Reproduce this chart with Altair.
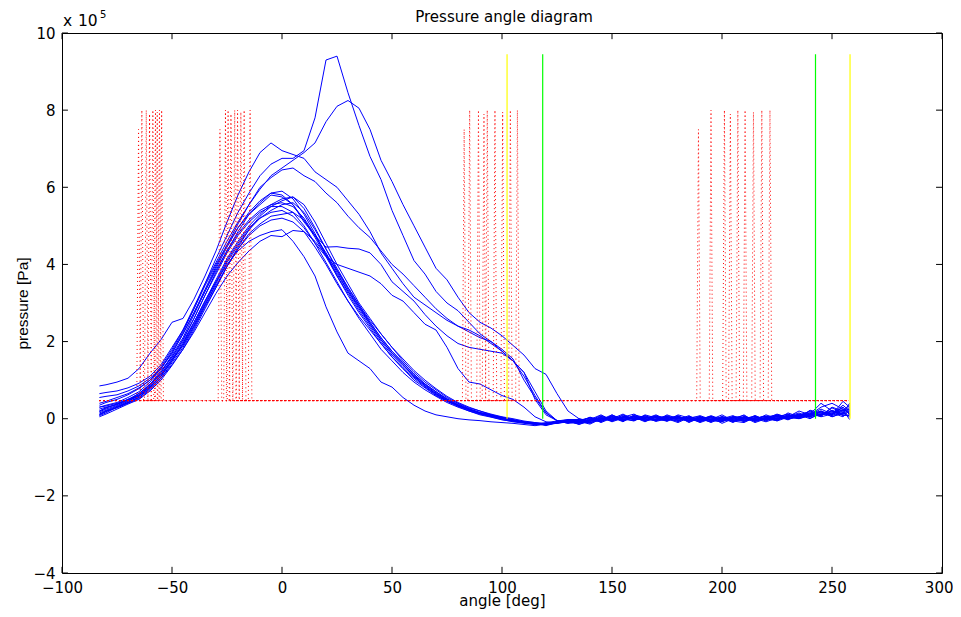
import altair as alt
import pandas as pd

# ---------------- data ----------------
x_domain = [-100, 300]
y_domain = [-4, 10]
x_ticks = [-100, -50, 0, 50, 100, 150, 200, 250, 300]
y_ticks = [-4, -2, 0, 2, 4, 6, 8, 10]

angles = [-83, -80, -75, -70, -65, -60, -55, -50, -45, -40, -35,
          -30, -25, -20, -15, -10, -5, 0, 5, 10, 15, 20,
          25, 30, 35, 40, 45, 50, 55, 60, 65, 70, 75,
          80, 85, 90, 95, 100, 105, 110, 115, 120, 125, 130,
          135, 140, 145, 150, 155, 160, 165, 170, 175, 180, 185, 190, 195,
          200, 205, 210, 215, 220, 225, 230, 235, 240, 245, 250, 255, 258]

# pressure traces (x 10^5 Pa)
m1 = [0.15, 0.22, 0.32, 0.45, 0.6, 0.85, 1.2, 1.65, 2.1, 2.7, 3.3,
      3.9, 4.45, 4.95, 5.35, 5.65, 5.85, 5.9, 5.7, 5.3, 4.8, 4.25,
      3.7, 3.2, 2.75, 2.35, 1.95, 1.6, 1.3, 1.0, 0.8, 0.6, 0.45,
      0.32, 0.2, 0.12, 0.05, -0.02, -0.08, -0.12, -0.15, -0.12, -0.08, -0.05,
      -0.12, -0.02, -0.08, 0.05, -0.03, 0.08, -0.04, 0.03, 0.06, -0.05, 0.02, -0.1, 0.0,
      -0.06, 0.04, -0.08, 0.02, 0.06, -0.02, 0.1, 0.04, 0.15, 0.08, 0.22, 0.12, 0.18]
m2 = [0.08, 0.15, 0.3, 0.42, 0.55, 0.8, 1.1, 1.5, 1.95, 2.5, 3.05,
      3.6, 4.15, 4.6, 5.0, 5.3, 5.55, 5.7, 5.75, 5.45, 4.95, 4.4,
      3.85, 3.35, 2.9, 2.5, 2.1, 1.75, 1.45, 1.15, 0.9, 0.7, 0.5,
      0.35, 0.25, 0.15, 0.08, 0.0, -0.05, -0.1, -0.13, -0.16, -0.1, -0.06,
      -0.05, -0.12, 0.02, -0.06, 0.1, -0.02, 0.05, -0.07, 0.0, 0.08, -0.06, 0.02, -0.1,
      0.03, -0.08, 0.05, -0.05, 0.0, 0.08, 0.02, 0.12, 0.05, 0.18, 0.1, 0.25, 0.15]
m3 = [0.3, 0.33, 0.4, 0.5, 0.62, 0.9, 1.15, 1.55, 1.9, 2.4, 2.95,
      3.5, 4.05, 4.5, 4.9, 5.2, 5.4, 5.55, 5.6, 5.35, 4.9, 4.4,
      3.9, 3.4, 2.95, 2.55, 2.2, 1.85, 1.5, 1.2, 0.95, 0.75, 0.55,
      0.4, 0.28, 0.2, 0.1, 0.04, -0.02, -0.08, -0.1, -0.14, -0.12, -0.04,
      -0.1, 0.0, -0.05, 0.08, 0.0, -0.06, 0.1, 0.02, -0.04, 0.04, 0.0, -0.08, 0.03,
      -0.12, 0.0, -0.02, 0.08, -0.04, 0.05, 0.12, 0.0, 0.1, 0.2, 0.05, 0.15, 0.3]
m4 = [0.2, 0.28, 0.38, 0.48, 0.66, 0.88, 1.25, 1.6, 2.05, 2.6, 3.2,
      3.75, 4.3, 4.75, 5.1, 5.35, 5.5, 5.5, 5.35, 5.0, 4.55, 4.05,
      3.55, 3.05, 2.6, 2.2, 1.8, 1.5, 1.2, 0.95, 0.75, 0.58, 0.42,
      0.3, 0.2, 0.1, 0.04, -0.03, -0.07, -0.1, -0.14, -0.1, -0.06, -0.02,
      -0.02, -0.08, 0.06, -0.02, 0.04, 0.12, -0.03, 0.06, -0.02, -0.06, 0.05, -0.02, -0.07,
      0.02, -0.1, 0.06, -0.03, 0.1, 0.0, 0.06, 0.15, 0.02, 0.12, 0.2, 0.08, 0.1]
m5 = [0.12, 0.2, 0.28, 0.4, 0.52, 0.75, 1.05, 1.45, 1.85, 2.35, 2.9,
      3.4, 3.95, 4.4, 4.8, 5.05, 5.25, 5.3, 5.35, 5.15, 4.75, 4.3,
      3.8, 3.3, 2.9, 2.45, 2.05, 1.7, 1.4, 1.1, 0.85, 0.65, 0.48,
      0.33, 0.24, 0.14, 0.08, 0.02, -0.04, -0.1, -0.12, -0.18, -0.1, -0.05,
      -0.15, -0.05, 0.0, -0.04, 0.06, 0.0, 0.08, -0.05, 0.1, 0.0, -0.04, 0.05, -0.05,
      -0.08, 0.04, 0.0, -0.06, 0.04, 0.1, -0.02, 0.08, 0.2, 0.1, 0.15, 0.05, 0.22]
m6 = [0.25, 0.3, 0.36, 0.5, 0.6, 0.82, 1.12, 1.5, 1.9, 2.4, 2.95,
      3.45, 3.95, 4.4, 4.75, 5.0, 5.15, 5.2, 5.1, 4.85, 4.45, 4.0,
      3.5, 3.05, 2.65, 2.3, 1.95, 1.6, 1.3, 1.05, 0.82, 0.62, 0.46,
      0.34, 0.22, 0.13, 0.06, 0.0, -0.06, -0.1, -0.15, -0.13, -0.07, -0.03,
      -0.06, 0.03, -0.1, 0.02, -0.05, 0.05, 0.0, 0.1, -0.03, 0.03, -0.08, 0.0, 0.06,
      -0.04, -0.02, 0.1, -0.08, 0.02, -0.05, 0.08, 0.02, 0.1, 0.25, 0.12, 0.3, 0.12]
m7 = [0.1, 0.18, 0.3, 0.42, 0.55, 0.78, 1.05, 1.4, 1.8, 2.25, 2.75,
      3.25, 3.7, 4.05, 4.35, 4.6, 4.75, 4.72, 4.88, 4.85, 4.6, 4.25,
      3.85, 3.4, 2.95, 2.5, 2.1, 1.75, 1.45, 1.15, 0.9, 0.7, 0.52,
      0.38, 0.26, 0.16, 0.1, 0.03, -0.03, -0.08, -0.12, -0.15, -0.12, -0.07,
      -0.08, -0.1, 0.04, -0.08, 0.02, 0.06, -0.06, 0.0, 0.05, -0.08, 0.06, -0.05, -0.02,
      0.05, -0.06, -0.1, 0.04, -0.06, 0.08, 0.0, 0.05, 0.12, 0.06, 0.28, 0.15, 0.05]
m8 = [0.18, 0.25, 0.34, 0.47, 0.6, 0.86, 1.15, 1.55, 2.0, 2.5, 3.05,
      3.55, 4.0, 4.35, 4.6, 4.75, 4.85, 4.9, 4.6, 4.2, 3.7, 2.9,
      2.25, 1.7, 1.5, 1.3, 0.95, 0.82, 0.55, 0.35, 0.2, 0.1, 0.05,
      0.0, -0.03, -0.05, -0.08, -0.1, -0.12, -0.15, -0.18, -0.14, -0.1, -0.06,
      -0.14, -0.06, -0.02, 0.1, -0.06, 0.02, 0.04, -0.04, 0.0, 0.06, -0.1, 0.04, -0.03,
      0.0, 0.08, -0.05, 0.0, -0.08, 0.02, 0.05, 0.1, 0.0, 0.15, 0.08, 0.2, 0.25]
m9 = [0.05, 0.12, 0.25, 0.38, 0.5, 0.72, 1.0, 1.38, 1.8, 2.3, 2.85,
      3.4, 3.95, 4.45, 4.9, 5.25, 5.5, 5.65, 5.75, 5.55, 5.1, 4.55,
      4.0, 3.5, 3.0, 2.6, 2.2, 1.85, 1.55, 1.25, 1.0, 0.78, 0.58,
      0.42, 0.3, 0.2, 0.12, 0.05, 0.0, -0.06, -0.1, -0.13, -0.11, -0.05,
      -0.04, 0.02, -0.06, 0.0, 0.08, -0.04, 0.02, 0.07, -0.06, 0.1, 0.02, -0.06, 0.0,
      -0.05, 0.02, 0.04, -0.1, 0.0, 0.12, 0.03, 0.0, 0.08, 0.12, 0.18, 0.1, 0.08]
m10 = [0.65, 0.68, 0.72, 0.8, 0.92, 1.1, 1.4, 1.85, 2.3, 2.85, 3.45,
       4.0, 4.5, 4.95, 5.3, 5.55, 5.8, 5.75, 5.55, 5.15, 4.7, 4.2,
       3.7, 3.25, 2.8, 2.4, 2.0, 1.65, 1.35, 1.08, 0.85, 0.64, 0.47,
       0.35, 0.23, 0.15, 0.07, 0.01, -0.05, -0.09, -0.12, -0.16, -0.09, -0.04,
       -0.1, -0.04, 0.08, -0.03, -0.02, 0.04, -0.08, 0.05, 0.03, -0.02, 0.08, -0.08, 0.05,
       -0.02, -0.04, 0.02, 0.05, -0.02, -0.04, 0.1, 0.06, 0.15, 0.05, 0.12, 0.35, 0.2]
m11 = [0.55, 0.58, 0.62, 0.72, 0.85, 1.05, 1.3, 1.7, 2.2, 2.75, 3.3,
       3.85, 4.35, 4.8, 5.15, 5.4, 5.55, 5.6, 5.5, 5.2, 4.75, 4.25,
       3.75, 3.3, 2.85, 2.45, 2.05, 1.7, 1.4, 1.12, 0.88, 0.67, 0.5,
       0.36, 0.25, 0.16, 0.1, 0.02, -0.04, -0.1, -0.13, -0.15, -0.1, -0.05,
       -0.07, -0.14, 0.0, 0.04, -0.08, 0.1, 0.03, -0.02, -0.05, 0.05, -0.02, 0.0, -0.08,
       0.06, -0.03, -0.06, 0.02, 0.05, -0.06, 0.04, 0.12, 0.06, 0.1, 0.15, 0.22, -0.02]
sa = [0.3, 0.35, 0.42, 0.55, 0.7, 0.95, 1.3, 1.75, 2.25, 2.85, 3.5,
      4.15, 4.75, 5.35, 5.85, 6.3, 6.6, 6.75, 6.75, 6.95, 7.8, 9.3,
      9.4, 8.45, 7.6, 6.8, 6.2, 5.4, 4.75, 4.1, 3.75, 3.3, 3.0,
      2.8, 2.5, 2.2, 2.0, 1.75, 1.5, 1.2, 0.7, 0.2, -0.05, -0.12,
      0.0, -0.1, -0.04, 0.06, 0.0, -0.05, 0.08, -0.03, 0.04, 0.0, -0.06, 0.06, -0.04,
      0.0, -0.07, 0.03, 0.0, 0.07, -0.02, 0.15, 0.05, 0.1, 0.2, 0.1, 0.45, 0.3]
sb = [0.35, 0.42, 0.5, 0.62, 0.78, 1.0, 1.35, 1.8, 2.3, 2.9, 3.5,
      4.05, 4.6, 5.1, 5.55, 5.95, 6.3, 6.5, 6.7, 6.9, 7.15, 7.7,
      8.1, 8.25, 8.05, 7.5, 6.7, 6.15, 5.55, 5.0, 4.45, 3.9, 3.6,
      3.15, 2.75, 2.5, 2.35, 2.15, 1.9, 1.65, 1.3, 1.15, 0.65, 0.2,
      0.0, -0.06, 0.05, -0.06, 0.03, 0.02, -0.05, 0.08, -0.02, 0.02, 0.04, -0.04, 0.08,
      -0.02, 0.05, -0.04, 0.06, -0.02, 0.1, 0.05, 0.2, 0.1, 0.3, 0.4, 0.25, 0.12]
sc = [0.85, 0.88, 0.95, 1.05, 1.3, 1.7, 2.05, 2.5, 2.6, 3.1, 3.7,
      4.35, 5.1, 5.8, 6.4, 6.9, 7.15, 6.95, 6.85, 6.75, 6.4, 6.2,
      6.0, 5.65, 5.3, 4.85, 4.3, 3.9, 3.5, 3.15, 2.95, 2.75, 2.55,
      2.4, 2.25, 2.1, 2.0, 1.8, 1.55, 1.0, 0.55, 0.15, -0.05, -0.12,
      -0.08, 0.04, -0.03, 0.0, 0.12, -0.02, 0.0, -0.04, 0.08, -0.04, 0.0, 0.08, -0.02,
      0.1, -0.05, 0.0, -0.04, 0.03, 0.0, 0.06, 0.1, 0.05, 0.18, 0.05, 0.15, 0.4]
sd = [0.4, 0.45, 0.55, 0.65, 0.8, 1.0, 1.3, 1.7, 2.2, 2.75, 3.35,
      3.95, 4.5, 5.05, 5.55, 6.0, 6.25, 6.45, 6.5, 6.3, 6.15, 5.85,
      5.6, 5.25, 4.95, 4.7, 4.35, 4.0, 3.75, 3.45, 3.15, 2.85, 2.6,
      2.4, 2.3, 2.15, 1.95, 1.75, 1.5, 1.2, 0.5, 0.1, -0.05, -0.1,
      -0.12, -0.02, 0.1, -0.04, 0.04, -0.02, 0.05, 0.02, -0.07, 0.06, -0.05, 0.02, 0.04,
      -0.08, 0.06, 0.02, -0.02, 0.0, 0.06, -0.03, 0.1, 0.18, 0.08, 0.3, 0.2, 0.35]
se = [0.2, 0.28, 0.38, 0.5, 0.65, 0.9, 1.2, 1.6, 2.05, 2.6, 3.2,
      3.8, 4.35, 4.85, 5.3, 5.6, 5.85, 5.8, 5.55, 5.1, 4.75, 4.45,
      4.46, 4.42, 4.4, 4.3, 4.0, 3.55, 3.3, 3.05, 2.7, 2.4, 2.15,
      1.95, 1.85, 1.8, 1.75, 1.7, 1.5, 1.1, 0.6, 0.15, -0.05, -0.1,
      -0.06, 0.02, -0.08, 0.1, -0.02, 0.06, -0.04, 0.04, 0.0, -0.1, 0.03, 0.05, -0.06,
      0.04, 0.0, -0.06, 0.08, -0.04, 0.03, 0.0, 0.08, 0.12, 0.4, 0.2, 0.12, 0.25]
sf = [0.1, 0.2, 0.3, 0.42, 0.58, 0.82, 1.1, 1.5, 1.95, 2.45, 3.0,
      3.55, 4.1, 4.55, 4.95, 5.2, 5.35, 5.4, 5.25, 4.95, 4.55, 4.2,
      4.0, 3.9, 3.8, 3.7, 3.5, 3.2, 3.05, 2.75, 2.45, 2.3, 1.85,
      1.3, 0.95, 0.9, 0.75, 0.6, 0.5, 0.3, 0.05, -0.08, -0.12, -0.08,
      -0.1, -0.03, 0.0, 0.05, -0.06, 0.08, 0.0, -0.06, 0.05, 0.03, -0.04, -0.02, 0.06,
      -0.06, 0.02, 0.08, -0.05, 0.04, -0.04, 0.1, 0.02, 0.22, 0.15, 0.1, 0.3, 0.1]

curves = {"m1": m1, "m2": m2, "m3": m3, "m4": m4, "m5": m5, "m6": m6,
          "m7": m7, "m8": m8, "m9": m9, "m10": m10, "m11": m11,
          "sa": sa, "sb": sb, "sc": sc, "sd": sd, "se": se, "sf": sf}

# valve signal traces (red, dotted)
red_base = 0.47
red_start = -83
red_end = 257.5
red_g1 = [-66, -64.5, -62.5, -61, -59.5, -58.3, -57.5, -56.5, -55.5]
red_g2 = [-29, -26.5, -25.3, -24, -22.3, -21, -19.5, -18, -15.3]
red_g3 = [82, 84.5, 88.5, 91, 92.5, 96, 99.5, 103, 106.2]
red_g4 = [188.5, 194.2, 200.3, 203, 206.4, 209.7, 213.5, 217.3, 221]
red_top = [7.5, 8.0, 8.0, 7.9, 8.0, 8.0, 7.95, 8.0, 8.0]
red_edge = 0.8

# marker lines
vl_angle = [102.3, 118.5, 242.5, 258.2]
vl_color = ["#ffff00", "#00ff00", "#00ff00", "#ffff00"]
vl_low = 0
vl_high = 9.45

# texts
title_text = "Pressure angle diagram"
x_title = "angle [deg]"
y_title = "pressure [Pa]"

# ---------------- tables ----------------
rows = []
for name, vals in curves.items():
    assert len(vals) == len(angles), name
    for i, (a, v) in enumerate(zip(angles, vals)):
        rows.append({"curve": name, "angle": a, "p": v, "k": i})
df_blue = pd.DataFrame(rows)

rrows = []
for t in range(len(red_top)):
    pts = [(red_start, red_base)]
    for g in (red_g1, red_g2, red_g3, red_g4):
        a = g[t]
        pts += [(a, red_base), (a + red_edge, red_top[t]), (a + 2 * red_edge, red_base)]
    pts.append((red_end, red_base))
    for k, (a, v) in enumerate(pts):
        rrows.append({"trace": t, "angle": a, "p": v, "k": k})
df_red = pd.DataFrame(rrows)

df_vl = pd.DataFrame({"angle": vl_angle, "c": vl_color,
                      "p": [vl_low] * 4, "p2": [vl_high] * 4})

tick_lx = 2.7   # tick length in x units
tick_ly = 0.16  # tick length in y units
tb = pd.DataFrame({"angle": x_ticks + x_ticks,
                   "p": [y_domain[0]] * len(x_ticks) + [y_domain[1]] * len(x_ticks),
                   "p2": [y_domain[0] + tick_ly] * len(x_ticks) + [y_domain[1] - tick_ly] * len(x_ticks)})
tl = pd.DataFrame({"p": y_ticks + y_ticks,
                   "angle": [x_domain[0]] * len(y_ticks) + [x_domain[1]] * len(y_ticks),
                   "angle2": [x_domain[0] + tick_lx] * len(y_ticks) + [x_domain[1] - tick_lx] * len(y_ticks)})

WIDE = "DejaVu Sans"
NARROW = "Liberation Sans"
xs = alt.Scale(domain=x_domain, nice=False, zero=False)
ys = alt.Scale(domain=y_domain, nice=False, zero=False)

last_x = "datum.value == %d" % x_domain[1]
x_axis = alt.Axis(values=x_ticks, format="d", labelFont=WIDE, labelFontSize=15,
                  labelColor="black", labelPadding=7, ticks=False,
                  labelAlign={"condition": {"test": last_x, "value": "right"}, "value": "center"},
                  labelOffset={"condition": {"test": last_x, "value": 11}, "value": 0},
                  domain=False, grid=False, labelFlush=False, labelOverlap=False,
                  title=x_title, titleFont=WIDE, titleFontSize=15,
                  titleFontWeight="normal", titleColor="black",
                  titleBaseline="alphabetic", titleX=440, titleY=32.5)
y_axis = alt.Axis(values=y_ticks, format="d", labelFont=WIDE, labelFontSize=15,
                  labelColor="black", labelPadding=7, ticks=False,
                  domain=False, grid=False, labelFlush=False, labelOverlap=False,
                  title=y_title, titleFont=NARROW, titleFontSize=15.5,
                  titleFontWeight="normal", titleColor="black",
                  titleBaseline="alphabetic", titleAngle=270, titleX=-35, titleY=270)

X = alt.X("angle:Q", scale=xs, axis=x_axis)
Y = alt.Y("p:Q", scale=ys, axis=y_axis)

blue = alt.Chart(df_blue).mark_line(color="#0000ff", strokeWidth=1).encode(
    x=X, y=Y, detail="curve:N", order="k:Q")

red = alt.Chart(df_red).mark_line(color="#ff0000", strokeWidth=1, strokeDash=[1, 3]).encode(
    x=X, y=Y, detail="trace:N", order="k:Q")

vlines = alt.Chart(df_vl).mark_rule(strokeWidth=1.2).encode(
    x=X, y=Y, y2="p2:Q", color=alt.Color("c:N", scale=None))

xt = alt.Chart(tb).mark_rule(color="black", strokeWidth=1).encode(x=X, y=Y, y2="p2:Q")
yt = alt.Chart(tl).mark_rule(color="black", strokeWidth=1).encode(x=X, x2="angle2:Q", y=Y)

one = pd.DataFrame({"t": ["x"]})
title_mark = alt.Chart(one).mark_text(text=title_text, font=WIDE, fontSize=15, align="center",
                                      baseline="alphabetic", color="black").encode(
    x=alt.value(442), y=alt.value(-11))
exp_x = alt.Chart(one).mark_text(text="x", font=WIDE, fontSize=15.5, align="left",
                                 baseline="alphabetic", color="black").encode(
    x=alt.value(1), y=alt.value(-7))
exp_10 = alt.Chart(one).mark_text(text="10", font=WIDE, fontSize=15.5, align="left",
                                  baseline="alphabetic", color="black").encode(
    x=alt.value(16), y=alt.value(-7))
exp_5 = alt.Chart(one).mark_text(text="5", font=WIDE, fontSize=10, align="left",
                                 baseline="alphabetic", color="black").encode(
    x=alt.value(38), y=alt.value(-15.5))

chart = alt.layer(blue, red, vlines, xt, yt, title_mark, exp_x, exp_10, exp_5).properties(
    width=880, height=540,
    padding={"left": 54, "top": 25, "right": 11, "bottom": 36},
    autosize=alt.AutoSizeParams(type="none"),
    background="white",
).configure_view(stroke="black", strokeWidth=1)

chart.save("out.html", embed_options={"renderer": "svg", "actions": False})
